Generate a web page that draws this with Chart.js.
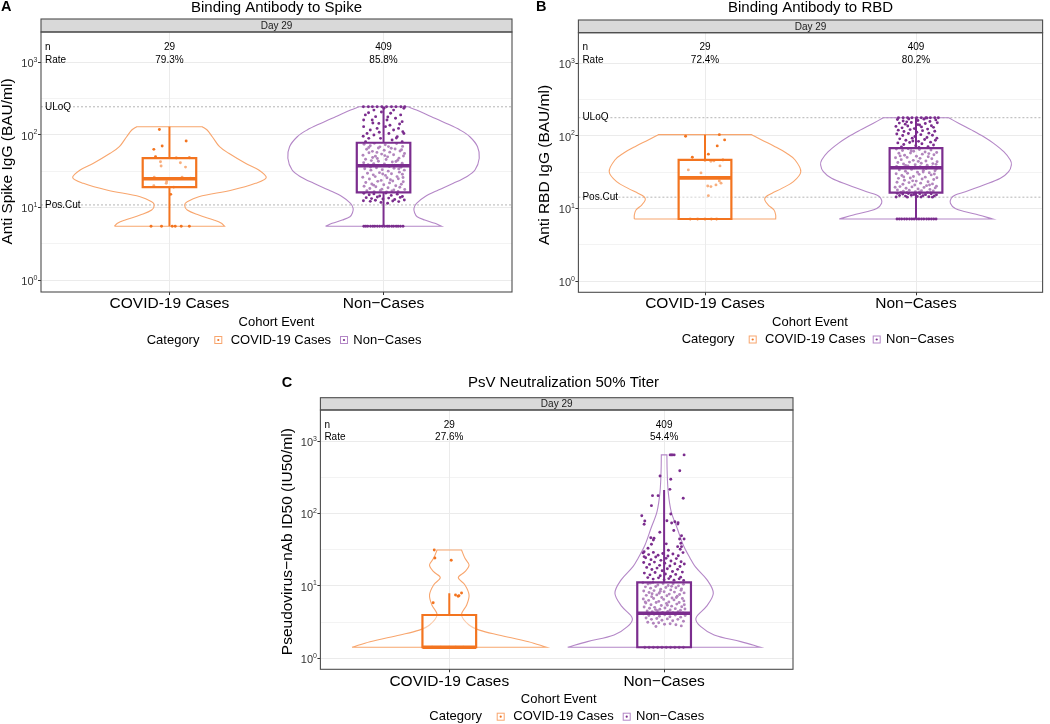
<!DOCTYPE html>
<html>
<head>
<meta charset="utf-8">
<script src="https://cdn.jsdelivr.net/npm/chart.js@4.4.1/dist/chart.umd.min.js"></script>
<style>
  html, body { margin: 0; padding: 0; background: #fff; }
  #wrap { position: relative; width: 1050px; height: 724px; overflow: hidden; }
  .panel { position: absolute; }
</style>
</head>
<body>
<div id="wrap">
  <div class="panel" style="left:0;top:0"><canvas id="chart-spike" width="520" height="360"></canvas></div>
  <div class="panel" style="left:520px;top:0"><canvas id="chart-rbd" width="530" height="360"></canvas></div>
  <div class="panel" style="left:270px;top:370px"><canvas id="chart-psv" width="530" height="354"></canvas></div>
</div>
<script>
// ---- data ----
const categories = ['COVID-19 Cases', 'Non\u2212Cases'];
const nLabels = ['29', '409'];
const yTickValues = [1, 10, 100, 1000];
const yTickExponents = ['0', '1', '2', '3'];
const yGridValues = [1, 3.162, 10, 31.62, 100, 316.2, 1000];
const refLabels = ['ULoQ', 'Pos.Cut'];

// Binding Antibody to Spike
const spikeRates = ['79.3%', '85.8%'];
const spikeRefValues = [242, 10.8];
// box: min, q1, median, q3, max
const spikeCaseBox = [5.5, 19.0, 24.7, 47.7, 128.8];
const spikeNonBox = [5.5, 16.1, 37.3, 77.4, 242];
const spikeCaseViolinY = [5.5, 6.03, 6.69, 7.84, 9.18, 10.8, 11.95, 14.0, 17.3, 21.4, 25.6, 32.6, 40.4, 55.4, 68.3, 93.7, 116, 128.8];
const spikeCaseViolinW = [0.257, 0.243, 0.207, 0.137, 0.083, 0.071, 0.083, 0.137, 0.293, 0.402, 0.452, 0.417, 0.355, 0.277, 0.234, 0.2, 0.176, 0.153];
const spikeNonViolinY = [5.5, 6.03, 6.69, 7.43, 8.43, 9.7, 11.36, 14.0, 17.3, 21.4, 26.4, 32.6, 47.3, 68.3, 93.7, 116, 143, 177, 218, 242];
const spikeNonViolinW = [0.271, 0.24, 0.193, 0.157, 0.145, 0.142, 0.154, 0.193, 0.256, 0.326, 0.388, 0.427, 0.447, 0.439, 0.403, 0.357, 0.294, 0.224, 0.154, 0.115];
const spikeCasePoints = [
  [-0.047,118],[0.078,82],[-0.034,70],[-0.073,62.8],[-0.065,49.7],[0.093,48.1],[-0.042,42.4],[0.051,41.1],
  [0.075,35.8],[-0.039,37],[-0.071,25.9],[0.059,25.9],[-0.073,19.8],[-0.013,22.5],[-0.015,21.4],[0.006,15.1],
  [0.032,47.7],[-0.095,24.7],[0.098,25.2],[0.02,19],
  [-0.086,5.5],[-0.037,5.5],[0.013,5.5],[0.027,5.5],[0.055,5.5],[0.093,5.5]
];
const spikeNonPoints = [
  [-0.094,242],[-0.071,242],[-0.052,242],[-0.03,242],[-0.008,242],[0.014,242],[0.037,242],[0.058,242],[0.081,242],[0.099,242],
  [-0.085,187],[-0.053,159],[-0.022,143],[0.033,197],[0.056,168],[0.08,187],[0.087,151],[-0.093,129],[-0.062,116],[0.047,116],
  [0.07,122],[-0.077,104],[-0.045,99],[0.025,104],[0.095,104],[0.064,94],[-0.069,89],[-0.014,89],[0.04,84.5],[-0.084,80],
  [0.087,80],[0.016,159],[-0.037,177],[0.047,218],[-0.045,218],[0.002,231],[0.095,231],[-0.093,159],[-0.03,122],[0.009,129],
  [-0.01,205],[0.075,140],[-0.07,200],[0.02,175],[0.09,110],[-0.02,108],[0.06,90],[-0.095,95],[0.03,135],[-0.05,145],
  [-0.091,74],[-0.062,70.5],[-0.043,76],[-0.017,68],[0.008,72.5],[0.036,65],[0.061,75.5],[0.089,69],
  [-0.079,63],[-0.052,59],[-0.024,65.5],[0.003,61],[0.029,57.5],[0.054,63.5],[0.077,59.5],[0.098,55],
  [-0.096,52],[-0.068,56.5],[-0.038,50.5],[-0.009,54],[0.019,49.5],[0.047,53],[0.072,47.5],[0.093,51],
  [-0.084,46],[-0.057,44],[-0.029,47],[0.012,45.5],[0.041,42],[0.066,44.5],[0.087,40.5],
  [-0.093,41],[-0.072,38.5],[-0.046,40],[-0.021,37.5],[0.004,39.5],[0.027,36.5],[0.052,38],[0.081,35.5],
  [-0.088,34],[-0.059,32.5],[-0.033,35],[-0.006,33],[0.022,31.5],[0.049,34.5],[0.074,30.5],[0.097,32.5],
  [-0.075,29.5],[-0.048,28],[-0.019,30],[0.009,27.5],[0.037,29],[0.063,26.5],[0.088,28.5],
  [-0.097,26],[-0.066,24.5],[-0.039,26.5],[-0.011,23.5],[0.016,25.5],[0.043,23],[0.069,24.8],[0.092,22.5],
  [-0.083,22],[-0.055,21],[-0.027,22.8],[0.001,20.5],[0.028,21.7],[0.057,19.8],[0.083,20.8],
  [-0.091,19.5],[-0.064,18.2],[-0.036,19.2],[-0.008,17.8],[0.021,18.6],[0.048,17.3],[0.076,18.9],[0.099,17.6],
  [-0.078,16.9],[-0.044,16.4],[-0.015,17.1],[0.014,16.3],[0.039,16.8],[0.068,16.5],
  [-0.069,66.5],[0.023,68.5],[-0.031,57],[0.084,62],[-0.051,48.5],[0.058,42.8],[-0.087,37],[0.071,33.8],
  [-0.004,28.8],[0.032,24],[-0.046,20.2],[0.091,25.8],[-0.024,43],[0.006,51.5],[-0.061,35.8],
  [-0.092,15.6],[-0.067,14.9],[-0.045,15.3],[-0.018,14.3],[0.011,15.7],[0.036,14.6],[0.064,15.2],[0.088,14.1],
  [-0.081,13.6],[-0.056,13.2],[-0.029,13.9],[-0.003,13.0],[0.024,13.4],[0.052,12.8],[0.078,13.7],[0.097,12.6],
  [-0.094,12.3],[-0.062,12.1],[-0.038,12.5],[0.043,12.2],[0.071,12.0],[-0.012,11.7],[0.019,11.4],
  [-0.092,5.5],[-0.083,5.5],[-0.074,5.5],[-0.061,5.5],[-0.05,5.5],[-0.041,5.5],[-0.029,5.5],[-0.018,5.5],[-0.006,5.5],
  [0.005,5.5],[0.017,5.5],[0.026,5.5],[0.038,5.5],[0.047,5.5],[0.059,5.5],[0.068,5.5],[0.079,5.5],[0.091,5.5]
];

// Binding Antibody to RBD
const rbdRates = ['72.4%', '80.2%'];
const rbdRefValues = [178, 14.3];
const rbdCaseBox = [7.15, 7.15, 26.4, 46.6, 104];
const rbdNonBox = [7.15, 16.5, 36.4, 68, 178];
const rbdCaseViolinY = [7.15, 8.11, 9.51, 11.15, 13.1, 14.5, 16.1, 18.9, 23.4, 32.1, 46.5, 57.5, 71, 87.7, 104];
const rbdCaseViolinW = [0.335, 0.335, 0.327, 0.3, 0.283, 0.289, 0.316, 0.364, 0.419, 0.454, 0.427, 0.387, 0.332, 0.269, 0.221];
const rbdNonViolinY = [7.15, 8.11, 9.02, 10.0, 11.8, 13.8, 15.3, 17.0, 21.0, 26.0, 32.1, 39.7, 46.5, 60.5, 78.9, 97.4, 120, 149, 178];
const rbdNonViolinW = [0.364, 0.297, 0.234, 0.186, 0.163, 0.167, 0.186, 0.234, 0.321, 0.4, 0.439, 0.452, 0.447, 0.416, 0.368, 0.321, 0.265, 0.202, 0.155];
const rbdCasePoints = [
  [-0.092,99],[0.068,104],[0.093,88],[0.058,72.8],[0.016,56],[-0.06,50.8],[0.0,45.6],[0.028,44.8],[0.071,38.6],
  [-0.079,34],[-0.019,30.9],[0.013,20.4],[0.028,20],[0.052,21.1],[0.068,23.9],[0.076,22.3],[0.016,15],
  [0.042,45.2],[-0.03,26.4],[0.085,46.6],
  [-0.07,7.15],[-0.035,7.15],[0.0,7.15],[0.03,7.15],[0.055,7.15]
];
const rbdNonPoints = [
  [-0.083,178],[-0.061,178],[-0.04,178],[-0.019,178],[0.003,178],[0.025,178],[0.047,178],[0.068,178],[0.089,178],[0.106,178],
  [-0.088,168],[-0.061,160],[-0.034,171],[0.009,163],[0.038,170],[0.066,158],[0.094,166],
  [-0.079,150],[-0.051,145],[-0.022,153],[0.017,141],[0.044,148],[0.073,138],[0.101,152],
  [-0.095,135],[-0.066,129],[-0.039,137],[-0.008,126],[0.026,133],[0.055,124],[0.083,131],
  [-0.084,120],[-0.057,115],[-0.028,122],[0.004,112],[0.031,118],[0.061,109],[0.089,116],
  [-0.091,106],[-0.063,101],[-0.036,108],[-0.005,98],[0.023,104],[0.052,95],[0.078,102],[0.099,93],
  [-0.077,91],[-0.048,87],[-0.018,93],[0.012,84],[0.041,89],[0.069,82],[0.092,87],
  [-0.086,80],[-0.058,76],[-0.03,81],[-0.001,73],[0.028,78],[0.057,71],[0.083,75],
  [-0.069,70.5],[0.014,69.5],[-0.044,156],[0.052,176],[0.008,143],[-0.015,85],
  [-0.093,66],[-0.064,63],[-0.037,66.5],[-0.011,61.5],[0.016,65],[0.043,60],[0.071,64],[0.098,59],
  [-0.081,57.5],[-0.054,54],[-0.026,58],[0.002,52.5],[0.03,56],[0.058,51.5],[0.085,55],
  [-0.097,50],[-0.07,47],[-0.042,50.5],[-0.013,46],[0.019,49],[0.047,45],[0.075,48.5],[0.1,44],
  [-0.086,43],[-0.059,41],[-0.031,43.5],[-0.004,40],[0.025,42],[0.053,39.5],[0.08,41.5],
  [-0.092,38],[-0.065,36.8],[-0.038,38.5],[-0.009,36],[0.02,37.5],[0.048,35.5],[0.076,37.2],[0.096,35],
  [-0.079,34],[-0.05,32.5],[-0.021,34.5],[0.007,31.5],[0.035,33.5],[0.063,31],[0.09,33],
  [-0.094,30],[-0.067,28.5],[-0.04,30.5],[-0.012,27.5],[0.015,29.5],[0.044,27],[0.072,29],[0.099,26.5],
  [-0.083,26],[-0.055,24.5],[-0.027,26.3],[0.001,23.8],[0.029,25.5],[0.057,23.3],[0.084,25],
  [-0.09,23],[-0.062,21.5],[-0.033,22.7],[-0.006,21],[0.022,22.3],[0.05,20.6],[0.078,21.8],[0.097,20.2],
  [-0.076,20],[-0.047,19],[-0.019,19.8],[0.01,18.6],[0.038,19.5],[0.066,18.3],[0.091,19.2],
  [-0.088,18],[-0.06,17.3],[-0.032,17.8],[-0.003,17],[0.026,17.6],[0.054,16.8],[0.082,17.4],
  [-0.071,16.7],[-0.043,16.6],[0.017,16.9],[0.069,16.6],
  [-0.023,62.5],[0.061,57],[-0.075,53],[0.011,44.5],[-0.049,39],[0.087,29.8],[-0.016,24],[0.034,31.8],
  [-0.058,27.2],[0.095,40.5],[0.064,21],[-0.099,19.6],
  [-0.089,16.2],[-0.063,15.8],[-0.036,16.1],[-0.01,15.6],[0.018,16.0],[0.045,15.5],[0.072,15.9],[0.097,15.4],
  [-0.078,15.1],[-0.05,14.8],[-0.022,15.2],[0.006,14.6],[0.033,15.0],[0.061,14.5],[0.087,14.9],
  [-0.094,14.4],[-0.041,14.3],[0.024,14.35],[0.078,14.3],
  [-0.09,7.15],[-0.079,7.15],[-0.068,7.15],[-0.055,7.15],[-0.044,7.15],[-0.031,7.15],[-0.02,7.15],[-0.009,7.15],[0.003,7.15],
  [0.014,7.15],[0.026,7.15],[0.037,7.15],[0.05,7.15],[0.061,7.15],[0.073,7.15],[0.084,7.15],[0.095,7.15]
];

// PsV Neutralization 50% Titer
const psvRates = ['27.6%', '54.4%'];
const psvCaseBox = [1.42, 1.42, 1.42, 3.96, 7.9];
const psvNonBox = [1.42, 1.42, 4.18, 11.2, 211];
const psvCaseViolinY = [1.42, 1.69, 2.1, 2.45, 2.88, 3.96, 5.45, 7.48, 10.3, 13.0, 15.7, 19.4, 24.0, 31.3];
const psvCaseViolinW = [0.453, 0.369, 0.229, 0.14, 0.092, 0.057, 0.081, 0.092, 0.073, 0.042, 0.073, 0.092, 0.073, 0.057];
const psvNonViolinY = [1.42, 1.70, 2.10, 2.73, 3.57, 5.16, 7.9, 12.1, 18.4, 24.1, 36.7, 62.5, 106, 200, 398, 643];
const psvNonViolinW = [0.449, 0.357, 0.233, 0.171, 0.148, 0.196, 0.229, 0.2, 0.145, 0.121, 0.089, 0.061, 0.033, 0.019, 0.014, 0.013];
const psvCasePoints = [
  [-0.07,31.3],[-0.067,24.3],[0.009,22.6],[-0.075,5.86],[0.029,7.48],[0.041,7.18],[0.057,7.98],[0.045,7.3],
  [-0.08,1.42],[-0.04,1.42],[0.0,1.42],[0.03,1.42],[0.065,1.42]
];
const psvNonPoints = [
  [0.028,643],[0.039,643],[0.047,643],[0.093,643],[0.034,643],
  [0.073,389],[-0.019,329],[0.031,296],[0.027,215],[0.089,162],[-0.054,176],[-0.028,176],[-0.059,128],[0.031,98],
  [-0.104,93],[-0.09,78.7],[-0.093,70.8],[0.05,76.9],[0.065,74.5],[0.013,79.4],[0.035,73.8],[0.064,71.5],
  [0.072,44.4],[-0.047,45.4],[-0.059,37.5],[0.081,34.8],[0.063,34.8],[0.075,32],[0.081,49.3],[0.093,44.4],
  [-0.062,46.2],[-0.05,43],[0.078,38.7],[-0.093,29.6],[-0.093,25.3],[-0.02,55],[0.01,38],[0.045,58],[-0.075,33],[0.02,31],
  [-0.098,28.5],[-0.072,27],[-0.05,29],[-0.028,26.5],[-0.006,28],[0.018,25.8],[0.041,27.5],[0.066,26],[0.088,28.8],
  [-0.086,24.5],[-0.061,23],[-0.039,25],[-0.015,22.5],[0.009,24],[0.032,22],[0.057,23.8],[0.079,21.5],
  [-0.095,21],[-0.068,19.8],[-0.045,21.3],[-0.021,19.2],[0.003,20.5],[0.027,18.8],[0.05,20.2],[0.074,18.5],[0.094,20],
  [-0.081,18],[-0.057,16.8],[-0.033,17.6],[-0.009,16.2],[0.015,17.2],[0.039,15.8],[0.063,16.9],[0.085,15.5],
  [-0.092,15],[-0.066,14.2],[-0.042,15.3],[-0.018,13.8],[0.006,14.6],[0.03,13.5],[0.054,14.4],[0.077,13.2],
  [-0.076,13],[-0.051,12.4],[-0.026,12.9],[0.0,12.1],[0.022,12.6],[0.046,12.0],[0.07,12.5],[0.091,11.9],
  [-0.099,11.0],[-0.075,10.6],[-0.052,11.1],[-0.029,10.3],[-0.005,10.8],[0.019,10.1],[0.042,10.7],[0.067,10.0],[0.09,10.5],
  [-0.087,9.7],[-0.063,9.3],[-0.039,9.8],[-0.016,9.0],[0.008,9.5],[0.031,8.8],[0.055,9.4],[0.079,8.7],
  [-0.095,8.5],[-0.07,8.1],[-0.047,8.6],[-0.023,7.9],[0.0,8.3],[0.024,7.7],[0.048,8.2],[0.072,7.6],[0.093,8.0],
  [-0.083,7.4],[-0.058,7.1],[-0.034,7.5],[-0.011,6.9],[0.013,7.3],[0.037,6.8],[0.061,7.2],[0.085,6.7],
  [-0.097,6.6],[-0.072,6.3],[-0.049,6.7],[-0.025,6.1],[-0.002,6.5],[0.022,6.0],[0.046,6.4],[0.07,5.9],[0.092,6.2],
  [-0.085,5.8],[-0.061,5.5],[-0.037,5.9],[-0.013,5.35],[0.011,5.7],[0.035,5.25],[0.059,5.6],[0.082,5.15],
  [-0.093,5.1],[-0.068,4.9],[-0.044,5.05],[-0.02,4.75],[0.004,4.95],[0.028,4.65],[0.052,4.85],[0.076,4.6],[0.097,4.8],
  [-0.079,4.5],[-0.055,4.4],[-0.031,4.55],[-0.007,4.3],[0.017,4.45],[0.041,4.25],[0.065,4.4],[0.088,4.22],
  [-0.064,10.9],[0.035,9.9],[-0.018,8.4],[0.081,9.1],[-0.056,7.8],[0.057,6.9],[-0.088,6.0],[0.015,5.4],[-0.04,4.7],[0.094,5.5],
  [-0.096,4.1],[-0.071,3.9],[-0.047,4.05],[-0.022,3.8],[0.003,4.0],[0.027,3.75],[0.052,3.95],[0.077,3.7],[0.098,3.9],
  [-0.084,3.6],[-0.059,3.45],[-0.034,3.55],[-0.01,3.35],[0.015,3.5],[0.04,3.3],[0.064,3.45],[0.09,3.25],
  [-0.076,3.15],[-0.05,3.05],[-0.025,3.1],[0.002,2.95],[0.028,3.0],[0.055,2.9],[0.08,2.8],[-0.038,2.75],
  [-0.09,1.42],[-0.07,1.42],[-0.05,1.42],[-0.03,1.42],[-0.01,1.42],[0.01,1.42],[0.03,1.42],[0.05,1.42],[0.07,1.42],[0.09,1.42]
];

// ---- drawing ----
Chart.defaults.font.family = '"Liberation Sans", Arial, Helvetica, sans-serif';

const orange = { box: '#f3741f', violin: '#f8a66e', point: '#f3741f' };
const purple = { box: '#7b2d8e', violin: '#b487c7', point: '#7b2d8e' };
const groupColors = [orange, purple];

function font(size, bold) {
  return (bold ? 'bold ' : '') + size + 'px "Liberation Sans", Arial, sans-serif';
}

function groupDatasets(pos, g, col) {
  const left = g.violinY.map((v, k) => ({ x: pos - g.violinW[k], y: v }));
  const right = g.violinY.map((v, k) => ({ x: pos + g.violinW[k], y: v })).reverse();
  // corners doubled so the flat top and bottom stay flat
  const outline = [...left, left[left.length - 1], right[0], ...right, right[right.length - 1], left[0]];
  const [lo, q1, med, q3, hi] = g.box;
  const hw = 0.125;
  const sets = [
    { data: outline, tension: 0.35, borderColor: col.violin, borderWidth: 1.1, pointRadius: 0, order: 9 },
    { data: g.points.map(([dx, v]) => ({ x: pos + dx, y: v })), showLine: false,
      pointRadius: 1.45, pointBackgroundColor: col.point, pointBorderWidth: 0, order: 6 },
    { data: [{x: pos, y: q1}, {x: pos + hw, y: q1}, {x: pos + hw, y: q3}, {x: pos - hw, y: q3}, {x: pos - hw, y: q1}, {x: pos, y: q1}],
      fill: 'shape', backgroundColor: 'rgba(255,255,255,0.42)', borderColor: col.box, borderWidth: 2.2, pointRadius: 0, order: 4 },
    { data: [{x: pos - hw, y: med}, {x: pos + hw, y: med}], borderColor: col.box, borderWidth: 3.6, pointRadius: 0, order: 3 }
  ];
  if (hi > q3) sets.push({ data: [{x: pos, y: q3}, {x: pos, y: hi}], borderColor: col.box, borderWidth: 2, pointRadius: 0, order: 5 });
  if (lo < q1) sets.push({ data: [{x: pos, y: lo}, {x: pos, y: q1}], borderColor: col.box, borderWidth: 2, pointRadius: 0, order: 5 });
  return sets;
}

const panelDecor = {
  id: 'panelDecor',
  afterDraw(chart, args, o) {
    const { ctx, chartArea: a } = chart;
    const xs = chart.scales.x, ys = chart.scales.y;
    ctx.save();

    // strip + panel border
    ctx.fillStyle = '#d9d9d9';
    ctx.fillRect(a.left, o.stripTop, a.right - a.left, a.top - o.stripTop);
    ctx.strokeStyle = '#4d4d4d';
    ctx.lineWidth = 1.1;
    ctx.strokeRect(a.left, o.stripTop, a.right - a.left, a.top - o.stripTop);
    ctx.strokeRect(a.left, a.top, a.right - a.left, a.bottom - a.top);
    ctx.fillStyle = '#1a1a1a';
    ctx.font = font(10);
    ctx.textAlign = 'center';
    ctx.textBaseline = 'middle';
    ctx.fillText('Day 29', (a.left + a.right) / 2, (o.stripTop + a.top) / 2 + 0.5);

    // n / rate
    ctx.fillStyle = '#000';
    ctx.textAlign = 'left';
    ctx.fillText('n', a.left + 4, o.nY);
    ctx.fillText('Rate', a.left + 4, o.rateY);
    ctx.textAlign = 'center';
    categories.forEach((c, i) => {
      const px = xs.getPixelForValue(i + 1);
      ctx.fillText(nLabels[i], px, o.nY);
      ctx.fillText(o.rates[i], px, o.rateY);
    });

    // reference line labels
    ctx.textAlign = 'left';
    o.refValues.forEach((v, i) => ctx.fillText(refLabels[i], a.left + 4, ys.getPixelForValue(v)));

    // y tick labels 10^k
    yTickValues.forEach((v, i) => {
      const py = ys.getPixelForValue(v);
      ctx.font = font(7);
      const we = ctx.measureText(yTickExponents[i]).width;
      ctx.font = font(11);
      const wb = ctx.measureText('10').width;
      const right = a.left - 3.5;
      ctx.fillStyle = '#333';
      ctx.textAlign = 'left';
      ctx.textBaseline = 'alphabetic';
      ctx.fillText('10', right - we - wb, py + 5);
      ctx.font = font(7);
      ctx.fillText(yTickExponents[i], right - we, py - 0.5);
    });

    // x tick labels
    ctx.fillStyle = '#000';
    ctx.textBaseline = 'middle';
    ctx.textAlign = 'center';
    ctx.font = font(15.5);
    categories.forEach((c, i) => ctx.fillText(c, xs.getPixelForValue(i + 1), o.xLabelY));

    // axis titles
    ctx.font = font(13);
    ctx.fillText('Cohort Event', o.axisTitleX, o.axisTitleY);
    ctx.save();
    ctx.translate(o.yTitleX, o.yTitleY);
    ctx.rotate(-Math.PI / 2);
    ctx.font = font(15.5);
    ctx.fillText(o.yTitle, 0, 0);
    ctx.restore();

    // title + panel letter
    ctx.font = font(15);
    ctx.fillText(o.title, o.titleX, o.titleY);
    ctx.textAlign = 'left';
    ctx.font = font(14.5, true);
    ctx.fillText(o.letter, o.letterX, o.letterY);

    // legend
    const L = o.legend;
    ctx.font = font(13);
    ctx.fillStyle = '#000';
    ctx.fillText('Category', L.categoryX, L.y);
    [L.key1X, L.key2X].forEach((kx, i) => {
      const col = groupColors[i];
      ctx.strokeStyle = col.violin;
      ctx.lineWidth = 1;
      ctx.strokeRect(kx - 3.5, L.y - 3.5, 7, 7);
      ctx.fillStyle = col.box;
      ctx.beginPath();
      ctx.arc(kx, L.y, 1.1, 0, Math.PI * 2);
      ctx.fill();
    });
    ctx.fillStyle = '#000';
    ctx.fillText(categories[0], L.text1X, L.y);
    ctx.fillText(categories[1], L.text2X, L.y);
    ctx.restore();
  }
};

const isDecade = c => !!c.tick && yTickValues.includes(c.tick.value);

function makeChart(id, spec) {
  const datasets = [];
  spec.refValues.forEach(v => datasets.push({
    data: [{x: 0.4, y: v}, {x: 2.6, y: v}], borderColor: '#b5b5b5', borderWidth: 1,
    borderDash: [2, 2], pointRadius: 0, order: 12
  }));
  spec.groups.forEach((g, i) => datasets.push(...groupDatasets(i + 1, g, groupColors[i])));
  return new Chart(document.getElementById(id), {
    type: 'line',
    data: { datasets },
    options: {
      responsive: false,
      animation: false,
      events: [],
      layout: { padding: spec.padding },
      plugins: { legend: { display: false }, tooltip: { enabled: false }, panelDecor: spec.decor },
      scales: {
        x: {
          type: 'linear', min: 0.4, max: 2.6, bounds: 'data',
          afterBuildTicks: s => { s.ticks = [{ value: 1 }, { value: 2 }]; },
          afterFit: s => { s.height = spec.xHeight; },
          ticks: { display: false },
          grid: { color: '#ebebeb', lineWidth: 1, tickLength: 3, tickColor: '#333' },
          border: { display: false }
        },
        y: {
          type: 'logarithmic', min: spec.yMin, max: spec.yMax, bounds: 'data',
          afterBuildTicks: s => { s.ticks = yGridValues.map(v => ({ value: v })); },
          afterFit: s => { s.width = spec.yWidth; },
          ticks: { display: false },
          grid: {
            color: '#ebebeb',
            lineWidth: c => isDecade(c) ? 1 : 0.6,
            tickLength: 3,
            tickColor: c => isDecade(c) ? '#333' : 'rgba(0,0,0,0)'
          },
          border: { display: false }
        }
      }
    },
    plugins: [panelDecor]
  });
}

makeChart('chart-spike', {
  yMin: 0.684, yMax: 2588, yWidth: 41, xHeight: 68,
  padding: { top: 32, right: 8, bottom: 0, left: 0 },
  refValues: spikeRefValues,
  groups: [
    { box: spikeCaseBox, violinY: spikeCaseViolinY, violinW: spikeCaseViolinW, points: spikeCasePoints },
    { box: spikeNonBox, violinY: spikeNonViolinY, violinW: spikeNonViolinW, points: spikeNonPoints }
  ],
  decor: {
    letter: 'A', letterX: 1, letterY: 6.5,
    title: 'Binding Antibody to Spike', titleX: 276.5, titleY: 7.5,
    yTitle: 'Anti Spike IgG (BAU/ml)', yTitleX: 8, yTitleY: 161.5,
    stripTop: 19, nY: 47, rateY: 60, rates: spikeRates, refValues: spikeRefValues,
    xLabelY: 304, axisTitleX: 276.5, axisTitleY: 322,
    legend: { y: 340, categoryX: 146.7, key1X: 218.3, text1X: 230.7, key2X: 344, text2X: 353.3 }
  }
});

makeChart('chart-rbd', {
  yMin: 0.699, yMax: 2641, yWidth: 58.4, xHeight: 67.7,
  padding: { top: 32.7, right: 7.4, bottom: 0, left: 0 },
  refValues: rbdRefValues,
  groups: [
    { box: rbdCaseBox, violinY: rbdCaseViolinY, violinW: rbdCaseViolinW, points: rbdCasePoints },
    { box: rbdNonBox, violinY: rbdNonViolinY, violinW: rbdNonViolinW, points: rbdNonPoints }
  ],
  decor: {
    letter: 'B', letterX: 16, letterY: 6.5,
    title: 'Binding Antibody to RBD', titleX: 290.5, titleY: 7.5,
    yTitle: 'Anti RBD IgG (BAU/ml)', yTitleX: 25, yTitleY: 165,
    stripTop: 20, nY: 47.3, rateY: 60.7, rates: rbdRates, refValues: rbdRefValues,
    xLabelY: 304, axisTitleX: 290, axisTitleY: 322,
    legend: { y: 339.5, categoryX: 161.7, key1X: 232.7, text1X: 245, key2X: 356.7, text2X: 366 }
  }
});

makeChart('chart-psv', {
  yMin: 0.705, yMax: 2679, yWidth: 50.4, xHeight: 54.7,
  padding: { top: 40, right: 7, bottom: 0, left: 0 },
  refValues: [],
  groups: [
    { box: psvCaseBox, violinY: psvCaseViolinY, violinW: psvCaseViolinW, points: psvCasePoints },
    { box: psvNonBox, violinY: psvNonViolinY, violinW: psvNonViolinW, points: psvNonPoints }
  ],
  decor: {
    letter: 'C', letterX: 11.7, letterY: 12.8,
    title: 'PsV Neutralization 50% Titer', titleX: 293.5, titleY: 12.5,
    yTitle: 'Pseudovirus\u2212nAb ID50 (IU50/ml)', yTitleX: 18, yTitleY: 171.7,
    stripTop: 27.7, nY: 55, rateY: 67.7, rates: psvRates, refValues: [],
    xLabelY: 311.7, axisTitleX: 288.7, axisTitleY: 329.3,
    legend: { y: 346.7, categoryX: 159.3, key1X: 230.7, text1X: 243.3, key2X: 356.7, text2X: 366 }
  }
});
</script>
</body>
</html>
